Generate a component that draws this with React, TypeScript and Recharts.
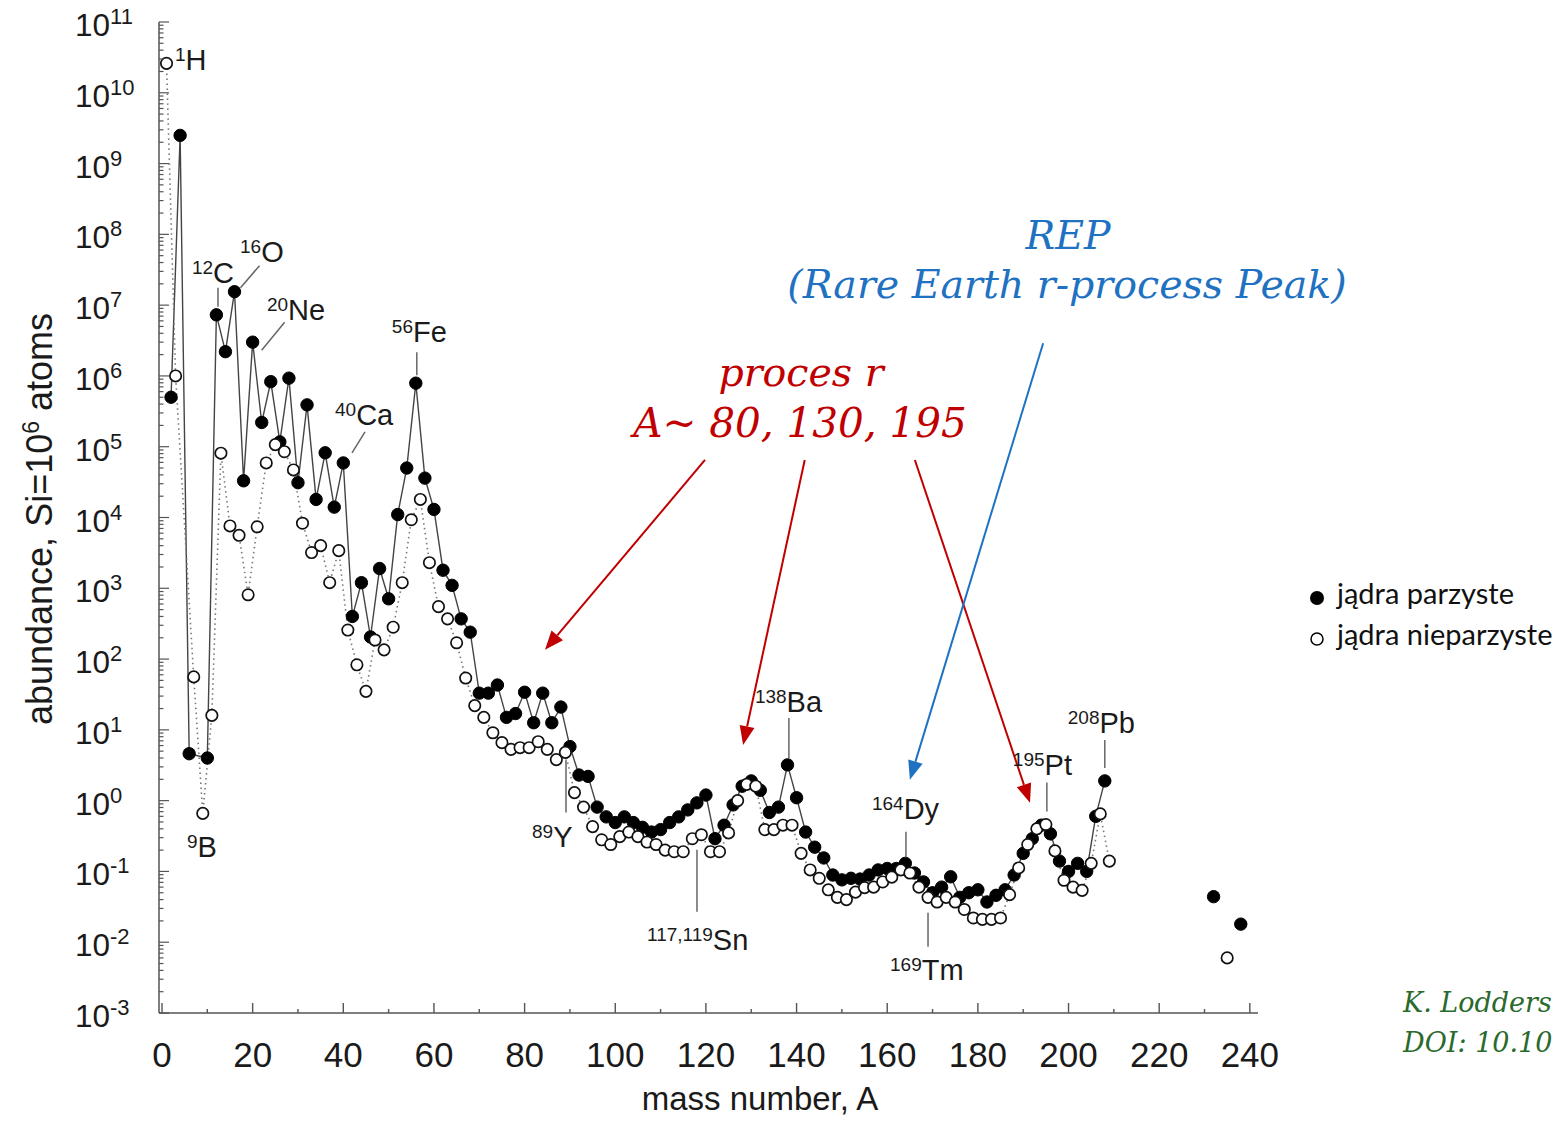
import React from 'react';
import { ComposedChart, Line, XAxis, YAxis, ReferenceDot, ReferenceLine } from 'recharts';

// ---------- data (solar system isotopic abundances, Si = 1e6) ----------
const evenMass = [
  2, 4, 6, 10, 12, 14, 16, 18, 20, 22, 24, 26, 28, 30, 32, 34, 36, 38, 40, 42, 44, 46, 48, 50,
  52, 54, 56, 58, 60, 62, 64, 66, 68, 70, 72, 74, 76, 78, 80, 82, 84, 86, 88, 90, 92, 94, 96, 98,
  100, 102, 104, 106, 108, 110, 112, 114, 116, 118, 120, 122, 124, 126, 128, 130, 132, 134, 136,
  138, 140, 142, 144, 146, 148, 150, 152, 154, 156, 158, 160, 162, 164, 166, 168, 170, 172, 174,
  176, 178, 180, 182, 184, 186, 188, 190, 192, 194, 196, 198, 200, 202, 204, 206, 208,
];
const evenAbundance = [
  5.0e5, 2.5e9, 4.6, 4.0, 7.3e6, 2.2e6, 1.55e7, 3.3e4, 3.0e6, 2.2e5, 8.3e5, 1.17e5, 9.3e5, 3.1e4,
  3.9e5, 1.8e4, 8.2e4, 1.4e4, 5.9e4, 400, 1.2e3, 205, 1.9e3, 710,
  1.1e4, 5.0e4, 7.9e5, 3.6e4, 1.3e4, 1.8e3, 1.1e3, 370, 240, 33, 33, 43, 15, 17, 34, 12.6, 33,
  12.6, 21, 5.8, 2.3, 2.2, 0.81, 0.59,
  0.49, 0.59, 0.49, 0.42, 0.36, 0.39, 0.49, 0.59, 0.74, 0.93, 1.2, 0.29, 0.45, 0.87, 1.6, 1.9,
  1.4, 0.68, 0.81,
  3.2, 1.1, 0.36, 0.22, 0.155, 0.089, 0.076, 0.08, 0.078, 0.089, 0.105, 0.11, 0.11, 0.13, 0.095,
  0.071, 0.05, 0.06, 0.084,
  0.043, 0.05, 0.055, 0.037, 0.046, 0.055, 0.089, 0.18, 0.29, 0.45, 0.34, 0.14, 0.1, 0.13, 0.1,
  0.6, 1.9,
];
const oddMass = [
  1, 3, 7, 9, 11, 13, 15, 17, 19, 21, 23, 25, 27, 29, 31, 33, 35, 37, 39, 41, 43, 45, 47, 49, 51,
  53, 55, 57, 59, 61, 63, 65, 67, 69, 71, 73, 75, 77, 79, 81, 83, 85, 87, 89, 91, 93, 95, 97, 99,
  101, 103, 105, 107, 109, 111, 113, 115, 117, 119, 121, 123, 125, 127, 129, 131, 133, 135, 137,
  139, 141, 143, 145, 147, 149, 151, 153, 155, 157, 159, 161, 163, 165, 167, 169, 171, 173, 175,
  177, 179, 181, 183, 185, 187, 189, 191, 193, 195, 197, 199, 201, 203, 205, 207, 209,
];
const oddAbundance = [
  2.6e10, 1.0e6, 56, 0.66, 16, 8.1e4, 7.6e3, 5.6e3, 810, 7.4e3, 5.9e4, 1.07e5, 8.5e4, 4.7e4,
  8.3e3, 3.2e3, 4.0e3, 1.2e3, 3.4e3, 257, 83, 35, 186, 135, 282,
  1.2e3, 9.3e3, 1.8e4, 2.3e3, 550, 370, 170, 54, 22, 15, 9.1, 6.6, 5.3, 5.6, 5.6, 6.8, 5.3, 3.8,
  4.8, 1.3, 0.81, 0.43, 0.28, 0.24,
  0.31, 0.36, 0.31, 0.26, 0.24, 0.2, 0.19, 0.19, 0.29, 0.33, 0.19, 0.19, 0.35, 1.0, 1.7, 1.6,
  0.39, 0.39, 0.45,
  0.45, 0.18, 0.105, 0.08, 0.055, 0.043, 0.04, 0.051, 0.059, 0.06, 0.071, 0.083, 0.105, 0.095,
  0.06, 0.043, 0.037, 0.043, 0.037,
  0.029, 0.022, 0.021, 0.021, 0.022, 0.047, 0.112, 0.24, 0.4, 0.46, 0.195, 0.075, 0.06, 0.054,
  0.13, 0.65, 0.14,
];
const actinideEvenMass = [232, 238];
const actinideEvenAbundance = [0.044, 0.018];
const actinideOddMass = [235];
const actinideOddAbundance = [0.006];

// ---------- axes ----------
const xMajorTicks = [0, 20, 40, 60, 80, 100, 120, 140, 160, 180, 200, 220, 240];
const xMinorTicks = [10, 30, 50, 70, 90, 110, 130, 150, 170, 190, 210, 230];
const yExponents = [-3, -2, -1, 0, 1, 2, 3, 4, 5, 6, 7, 8, 9, 10, 11];
const yMinorFactors = [2, 3, 4, 5, 6, 7, 8, 9];

const xTicks = [...xMajorTicks, ...xMinorTicks].sort((a, b) => a - b);
const yTicks: number[] = [];
yExponents.forEach((e) => {
  yTicks.push(Math.pow(10, e));
  if (e < 11) yMinorFactors.forEach((k) => yTicks.push(k * Math.pow(10, e)));
});

// ---------- annotation content ----------
const isotopeLabels = [
  { A: 1, v: 2.6e10, sup: '1', el: 'H', dx: 8.5, dy: 6.6, leader: null },
  { A: 12, v: 7.3e6, sup: '12', el: 'C', dx: -24.4, dy: -32, leader: [1.6, -27, 1.6, -8] },
  { A: 16, v: 1.55e7, sup: '16', el: 'O', dx: 5.5, dy: -30, leader: [6, -4, 25, -26] },
  { A: 20, v: 3.0e6, sup: '20', el: 'Ne', dx: 14.3, dy: -22, leader: [9, 8, 32, -20] },
  { A: 40, v: 5.9e4, sup: '40', el: 'Ca', dx: -8.3, dy: -38, leader: [8.7, -10, 21.7, -31] },
  { A: 56, v: 7.9e5, sup: '56', el: 'Fe', dx: -24, dy: -41, leader: [1, -31, 1, -8] },
  { A: 9, v: 0.66, sup: '9', el: 'B', dx: -15.8, dy: 43.5, leader: null },
  { A: 89, v: 4.8, sup: '89', el: 'Y', dx: -33.4, dy: 94.4, leader: [0.6, 7, 0.6, 60] },
  { A: 119, v: 0.33, sup: '117,119', el: 'Sn', dx: -54.4, dy: 115, leader: [-4.4, 15, -4.4, 77] },
  { A: 138, v: 3.2, sup: '138', el: 'Ba', dx: -32.6, dy: -53, leader: [1.4, -47, 1.4, -7] },
  { A: 164, v: 0.13, sup: '164', el: 'Dy', dx: -33.4, dy: -44.5, leader: [0.6, -31.5, 0.6, -6] },
  { A: 169, v: 0.043, sup: '169', el: 'Tm', dx: -38, dy: 82.5, leader: [0, 15.5, 0, 49.5] },
  { A: 195, v: 0.46, sup: '195', el: 'Pt', dx: -33, dy: -50, leader: [1, -42, 1, -13] },
  { A: 208, v: 1.9, sup: '208', el: 'Pb', dx: -37, dy: -48, leader: [0, -41, 0, -13] },
];

const RED = '#C00000';
const BLUE = '#1F72C2';
const GREEN = '#2A6A2C';

const arrows = [
  { from: { x: 119.8, y: 6.5e4 }, to: { x: 84.5, y: 135 }, color: RED },
  { from: { x: 141.8, y: 6.5e4 }, to: { x: 128.2, y: 6.1 }, color: RED },
  { from: { x: 166.1, y: 6.5e4 }, to: { x: 191.5, y: 0.93 }, color: RED },
  { from: { x: 194.4, y: 2.9e6 }, to: { x: 165, y: 1.97 }, color: BLUE },
];

const legendLabels = ['jądra parzyste', 'jądra nieparzyste'];
const citationLines = ['K. Lodders', 'DOI: 10.10'];

const evenData = evenMass.map((A, i) => ({ A, v: evenAbundance[i] }));
const oddData = oddMass.map((A, i) => ({ A, v: oddAbundance[i] }));
const actEvenData = actinideEvenMass.map((A, i) => ({ A, v: actinideEvenAbundance[i] }));
const actOddData = actinideOddMass.map((A, i) => ({ A, v: actinideOddAbundance[i] }));

// ---------- styling ----------
const W = 1560;
const H = 1125;
const SANS = '"Liberation Sans", Arial, sans-serif';
const SERIF = '"DejaVu Serif", "Liberation Serif", serif';
const AXIS = '#555';

const filledDot = { r: 6.2, fill: '#000', stroke: '#000', strokeWidth: 1, strokeDasharray: 'none' };
const openDot = { r: 5.7, fill: '#fff', stroke: '#111', strokeWidth: 1.7, strokeDasharray: 'none' };

const XTick = (props: any) => {
  const { x, y, payload } = props;
  const v = payload.value;
  const major = v % 20 === 0;
  return (
    <g>
      <line x1={x} y1={y} x2={x} y2={y - (major ? 10 : 4)} stroke={AXIS} strokeWidth={1.4} />
      {major && (
        <text x={x} y={y + 54} textAnchor="middle" fontFamily={SANS} fontSize={35} fill="#1a1a1a">
          {v}
        </text>
      )}
    </g>
  );
};

const YTick = (props: any) => {
  const { x, y, payload } = props;
  const v = payload.value;
  const lg = Math.log10(v);
  const e = Math.round(lg);
  const major = Math.abs(lg - e) < 1e-6;
  return (
    <g>
      <line x1={x} y1={y} x2={x + (major ? 10 : 4.5)} y2={y} stroke={AXIS} strokeWidth={1.2} />
      {major && (
        <text x={x - 84} y={y + 14} fontFamily={SANS} fontSize={31.5} fill="#1a1a1a">
          10
          <tspan fontSize={22} dy={-12}>
            {String(e)}
          </tspan>
        </text>
      )}
    </g>
  );
};

const IsoLabel = (props: any) => {
  const { cx, cy, sup, el, dx, dy, leader } = props;
  if (cx == null || cy == null) return null;
  return (
    <g>
      {leader && (
        <line
          x1={cx + leader[0]}
          y1={cy + leader[1]}
          x2={cx + leader[2]}
          y2={cy + leader[3]}
          stroke="#666"
          strokeWidth={1.5}
        />
      )}
      <text x={cx + dx} y={cy + dy} fontFamily={SANS} fontSize={29} fill="#1a1a1a">
        <tspan fontSize={19} dy={-9}>
          {sup}
        </tspan>
        <tspan dy={9}>{el}</tspan>
      </text>
    </g>
  );
};

const arrowShape = (color: string) => (p: any) => {
  const { x1, y1, x2, y2 } = p;
  if ([x1, y1, x2, y2].some((n) => n == null || Number.isNaN(n))) return <g />;
  const ang = Math.atan2(y2 - y1, x2 - x1);
  const L = 19;
  const Wd = 7.5;
  const bx = x2 - L * Math.cos(ang);
  const by = y2 - L * Math.sin(ang);
  const nx = -Math.sin(ang);
  const ny = Math.cos(ang);
  const pts = `${x2},${y2} ${bx + Wd * nx},${by + Wd * ny} ${bx - Wd * nx},${by - Wd * ny}`;
  return (
    <g>
      <line x1={x1} y1={y1} x2={bx} y2={by} stroke={color} strokeWidth={2} />
      <polygon points={pts} fill={color} />
    </g>
  );
};

export default function App() {
  return (
    <div style={{ position: 'relative', width: W, height: H, margin: -8, overflow: 'hidden', background: '#fff' }}>
      <ComposedChart width={W} height={H} margin={{ top: 22, right: 302, bottom: 32, left: 39 }}>
        <XAxis
          type="number"
          dataKey="A"
          domain={[-0.66, 241.8]}
          allowDataOverflow
          ticks={xTicks}
          interval={0}
          tick={<XTick />}
          tickLine={false}
          tickSize={0}
          tickMargin={0}
          axisLine={{ stroke: AXIS, strokeWidth: 1.5 }}
          height={80}
        />
        <YAxis
          type="number"
          scale="log"
          domain={[1e-3, 1e11]}
          allowDataOverflow
          ticks={yTicks}
          interval={0}
          tick={<YTick />}
          tickLine={false}
          tickSize={0}
          tickMargin={0}
          axisLine={{ stroke: AXIS, strokeWidth: 1.5 }}
          width={120}
        />
        <Line
          data={evenData}
          dataKey="v"
          type="linear"
          stroke="#444"
          strokeWidth={1.4}
          dot={filledDot}
          activeDot={false}
          isAnimationActive={false}
        />
        <Line
          data={oddData}
          dataKey="v"
          type="linear"
          stroke="#777"
          strokeWidth={1.6}
          strokeDasharray="1.5 3.5"
          dot={openDot}
          activeDot={false}
          isAnimationActive={false}
        />
        <Line
          data={actEvenData}
          dataKey="v"
          stroke="none"
          dot={filledDot}
          activeDot={false}
          isAnimationActive={false}
        />
        <Line
          data={actOddData}
          dataKey="v"
          stroke="none"
          dot={openDot}
          activeDot={false}
          isAnimationActive={false}
        />
        {isotopeLabels.map((l) => (
          <ReferenceDot
            key={l.sup + l.el}
            x={l.A}
            y={l.v}
            r={1}
            ifOverflow="visible"
            shape={(p: any) => (
              <IsoLabel cx={p.cx} cy={p.cy} sup={l.sup} el={l.el} dx={l.dx} dy={l.dy} leader={l.leader} />
            )}
          />
        ))}
        {arrows.map((a, i) => (
          <ReferenceLine
            key={'arrow' + i}
            segment={[a.from, a.to]}
            ifOverflow="visible"
            stroke={a.color}
            shape={arrowShape(a.color)}
          />
        ))}
      </ComposedChart>
      <svg
        width={W}
        height={H}
        style={{ position: 'absolute', left: 0, top: 0, pointerEvents: 'none', overflow: 'hidden' }}
      >
        <text
          x={52}
          y={519}
          transform="rotate(-90 52 519)"
          textAnchor="middle"
          fontFamily={SANS}
          fontSize={36}
          fill="#1a1a1a"
        >
          abundance, Si=10
          <tspan fontSize={23} dy={-13}>
            6
          </tspan>
          <tspan dy={13}> atoms</tspan>
        </text>
        <text x={760} y={1110} textAnchor="middle" fontFamily={SANS} fontSize={33} fill="#1a1a1a">
          mass number, A
        </text>

        <text x={1068} y={249} textAnchor="middle" fontFamily={SERIF} fontStyle="italic" fontSize={39.5} fill={BLUE}>
          REP
        </text>
        <text x={1067} y={298} textAnchor="middle" fontFamily={SERIF} fontStyle="italic" fontSize={39.5} fill={BLUE}>
          (Rare Earth r-process Peak)
        </text>
        <text x={801} y={386} textAnchor="middle" fontFamily={SERIF} fontStyle="italic" fontSize={39.5} fill={RED}>
          proces r
        </text>
        <text x={800} y={437} textAnchor="middle" fontFamily={SERIF} fontStyle="italic" fontSize={40.5} fill={RED}>
          A~ 80, 130, 195
        </text>

        <circle cx={1317} cy={598} r={7} fill="#000" />
        <text x={1337} y={604} fontFamily="Lato, sans-serif" fontSize={29} fill="#111">
          {legendLabels[0]}
        </text>
        <circle cx={1317} cy={639} r={6} fill="#fff" stroke="#000" strokeWidth={1.5} />
        <text x={1337} y={645} fontFamily="Lato, sans-serif" fontSize={29} fill="#111">
          {legendLabels[1]}
        </text>

        <text x={1403} y={1012} fontFamily={SERIF} fontStyle="italic" fontSize={27} fill={GREEN}>
          {citationLines[0]}
        </text>
        <text x={1403} y={1052} fontFamily={SERIF} fontStyle="italic" fontSize={27} fill={GREEN}>
          {citationLines[1]}
        </text>
      </svg>
    </div>
  );
}
